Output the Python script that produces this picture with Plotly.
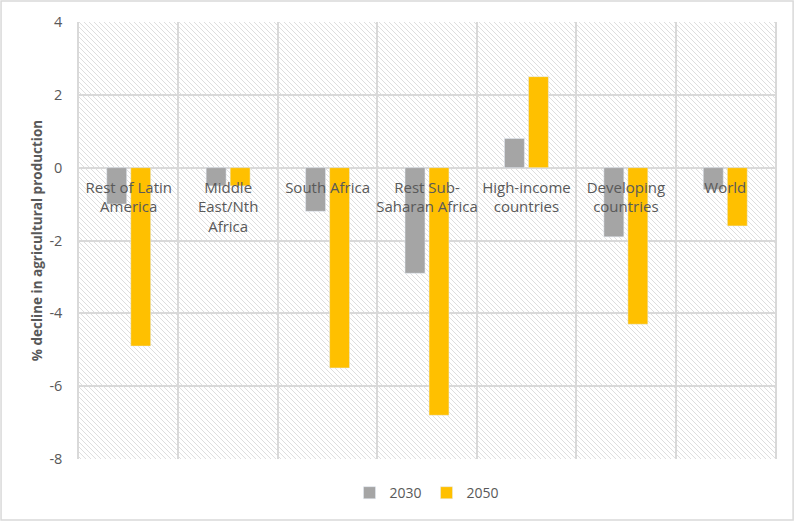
import base64
import plotly.graph_objects as go

regions = [
    "Rest of Latin<br>America",
    "Middle<br>East/Nth<br>Africa",
    "South Africa",
    "Rest Sub-<br>Saharan Africa",
    "High-income<br>countries",
    "Developing<br>countries",
    "World",
]
y2030 = [-1.0, -0.5, -1.2, -2.9, 0.8, -1.9, -0.6]
y2050 = [-4.9, -0.5, -5.5, -6.8, 2.5, -4.3, -1.6]
y_ticks = [4, 2, 0, -2, -4, -6, -8]
y_tick_text = ["4", "2", "0", "-2", "-4", "-6", "-8"]

text_grey = "#595959"
grid_grey = "#d9d9d9"

# hatched plot area, excel style
hatch_svg = """<svg xmlns="http://www.w3.org/2000/svg" width="696" height="437" viewBox="0 0 696 437" preserveAspectRatio="none">
<defs><pattern id="h" width="5" height="5" patternUnits="userSpaceOnUse">
<path d="M0,0 L5,5 M-1,4 L1,6 M4,-1 L6,1" stroke="#dedede" stroke-width="1"/>
</pattern></defs>
<rect width="696" height="437" fill="white"/>
<rect width="696" height="437" fill="url(#h)"/>
</svg>"""
hatch_src = "data:image/svg+xml;base64," + base64.b64encode(hatch_svg.encode()).decode()

fig = go.Figure()
fig.add_trace(go.Bar(name="2030", x=regions, y=y2030, marker_color="#a5a5a5"))
fig.add_trace(go.Bar(name="2050", x=regions, y=y2050, marker_color="#ffc000"))

fig.update_layout(
    width=795,
    height=522,
    margin=dict(l=79, r=20, t=22, b=63),
    paper_bgcolor="white",
    plot_bgcolor="white",
    barmode="group",
    bargap=0.517,
    bargroupgap=0.17,
    font=dict(family="Open Sans", size=14, color=text_grey),
    legend=dict(
        orientation="h",
        x=0.5,
        xanchor="center",
        y=-0.078,
        yanchor="middle",
        font=dict(size=14, color=text_grey),
        itemwidth=30,
    ),
    images=[
        dict(
            source=hatch_src,
            xref="paper",
            yref="paper",
            x=0,
            y=1,
            sizex=1,
            sizey=1,
            sizing="stretch",
            layer="below",
        )
    ],
    shapes=[
        dict(
            type="rect",
            xref="paper",
            yref="paper",
            x0=-0.112,
            x1=1.026,
            y0=-0.1396,
            y1=1.048,
            line=dict(color=grid_grey, width=1.5),
            fillcolor="rgba(0,0,0,0)",
            layer="below",
        )
    ],
)

fig.update_xaxes(
    type="category",
    range=[-0.5, 6.5],
    anchor="free",
    position=8 / 12,
    automargin=False,
    tickson="boundaries",
    tickangle=0,
    ticks="",
    showgrid=True,
    gridcolor=grid_grey,
    gridwidth=1.5,
    showline=False,
    zeroline=False,
    tickfont=dict(size=15, color=text_grey),
    ticklabelstandoff=9,
)
fig.update_yaxes(
    range=[-8, 4],
    tickvals=y_ticks,
    ticktext=y_tick_text,
    automargin=False,
    showgrid=True,
    gridcolor=grid_grey,
    gridwidth=1.5,
    zeroline=False,
    showline=True,
    mirror=True,
    linecolor=grid_grey,
    linewidth=1.5,
    ticks="",
    ticklabelstandoff=12,
    tickfont=dict(size=14.5, color=text_grey),
    title=dict(
        text="<b>% decline in agricultural production</b>",
        font=dict(size=13.5, color=text_grey),
        standoff=4,
    ),
)

fig.write_html(
    "out.html",
    config={"displayModeBar": False},
    post_script="document.body.style.margin='0';",
)
